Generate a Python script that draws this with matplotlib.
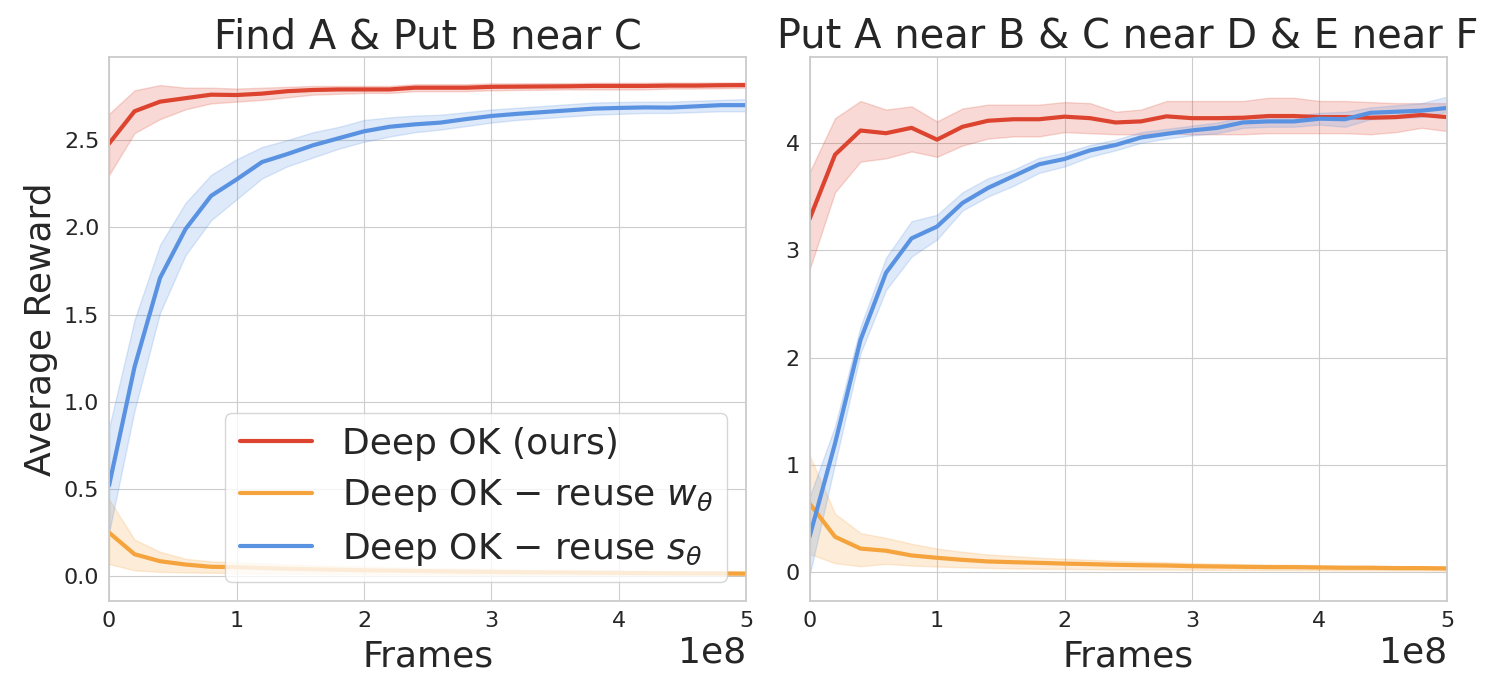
import numpy as np
import matplotlib
matplotlib.use("Agg")
import matplotlib.pyplot as plt
import seaborn as sns

sns.set_style("whitegrid")
plt.rcParams['font.family'] = ['DejaVu Sans']

# frames (26 checkpoints, every 2e7)
frames = np.arange(26) * 2e7

# --- Find A & Put B near C ---
left_ours = [2.48, 2.665, 2.72, 2.74, 2.76, 2.758, 2.766, 2.78, 2.787, 2.79, 2.79, 2.79, 2.80,
             2.80, 2.80, 2.805, 2.806, 2.807, 2.808, 2.81, 2.81, 2.81, 2.812, 2.812, 2.814, 2.815]
left_ours_lo = [2.30, 2.54, 2.62, 2.676, 2.71, 2.72, 2.73, 2.745, 2.76, 2.765, 2.77, 2.77, 2.78,
                2.78, 2.78, 2.785, 2.787, 2.788, 2.79, 2.79, 2.79, 2.79, 2.795, 2.795, 2.797, 2.80]
left_ours_hi = [2.65, 2.785, 2.815, 2.80, 2.80, 2.795, 2.80, 2.805, 2.81, 2.81, 2.81, 2.81, 2.82,
                2.82, 2.82, 2.825, 2.825, 2.826, 2.826, 2.828, 2.828, 2.828, 2.83, 2.83, 2.83, 2.83]

left_w = [0.25, 0.126, 0.086, 0.067, 0.054, 0.052, 0.047, 0.043, 0.040, 0.037, 0.034, 0.032, 0.030,
          0.028, 0.026, 0.025, 0.023, 0.022, 0.021, 0.020, 0.019, 0.018, 0.017, 0.016, 0.016, 0.015]
left_w_lo = [0.07, 0.034, 0.025, 0.022, 0.02, 0.018, 0.016, 0.015, 0.014, 0.013, 0.012, 0.011, 0.010,
             0.010, 0.009, 0.009, 0.008, 0.008, 0.008, 0.007, 0.007, 0.007, 0.006, 0.006, 0.006, 0.006]
left_w_hi = [0.44, 0.21, 0.14, 0.10, 0.085, 0.08, 0.074, 0.068, 0.063, 0.058, 0.054, 0.051, 0.048,
             0.045, 0.043, 0.041, 0.039, 0.037, 0.035, 0.034, 0.033, 0.032, 0.030, 0.029, 0.028, 0.027]

left_s = [0.52, 1.20, 1.71, 1.99, 2.18, 2.274, 2.374, 2.42, 2.47, 2.51, 2.55, 2.576, 2.59,
          2.60, 2.62, 2.638, 2.65, 2.66, 2.67, 2.68, 2.684, 2.687, 2.686, 2.693, 2.70, 2.70]
left_s_lo = [0.25, 0.95, 1.51, 1.84, 2.04, 2.16, 2.28, 2.35, 2.40, 2.45, 2.49, 2.52, 2.545,
             2.56, 2.58, 2.60, 2.615, 2.625, 2.635, 2.645, 2.65, 2.655, 2.655, 2.66, 2.665, 2.665]
left_s_hi = [0.85, 1.47, 1.90, 2.14, 2.30, 2.39, 2.46, 2.50, 2.545, 2.575, 2.615, 2.63, 2.64,
             2.645, 2.66, 2.675, 2.685, 2.695, 2.705, 2.715, 2.718, 2.72, 2.72, 2.725, 2.73, 2.735]

# --- Put A near B & C near D & E near F ---
right_ours = [3.29, 3.89, 4.115, 4.09, 4.14, 4.03, 4.15, 4.206, 4.22, 4.22, 4.244, 4.23, 4.19,
              4.20, 4.247, 4.23, 4.23, 4.234, 4.25, 4.25, 4.24, 4.24, 4.234, 4.24, 4.26, 4.24]
right_ours_lo = [2.82, 3.54, 3.825, 3.856, 3.92, 3.87, 3.975, 4.04, 4.06, 4.06, 4.10, 4.09, 4.08,
                 4.08, 4.09, 4.08, 4.08, 4.08, 4.09, 4.09, 4.09, 4.09, 4.08, 4.10, 4.14, 4.11]
right_ours_hi = [3.725, 4.23, 4.39, 4.31, 4.34, 4.20, 4.32, 4.356, 4.356, 4.356, 4.38, 4.37, 4.29,
                 4.31, 4.39, 4.39, 4.39, 4.39, 4.42, 4.42, 4.39, 4.39, 4.38, 4.37, 4.37, 4.37]

right_w = [0.64, 0.33, 0.22, 0.20, 0.156, 0.134, 0.115, 0.10, 0.093, 0.087, 0.08, 0.075, 0.069,
           0.065, 0.062, 0.056, 0.053, 0.05, 0.047, 0.047, 0.044, 0.041, 0.041, 0.038, 0.038, 0.035]
right_w_lo = [0.17, 0.084, 0.056, 0.078, 0.062, 0.053, 0.045, 0.04, 0.035, 0.032, 0.03, 0.028, 0.026,
              0.025, 0.024, 0.022, 0.021, 0.020, 0.019, 0.019, 0.018, 0.017, 0.017, 0.016, 0.016, 0.015]
right_w_hi = [1.09, 0.545, 0.364, 0.32, 0.265, 0.22, 0.19, 0.165, 0.15, 0.135, 0.125, 0.115, 0.105,
              0.098, 0.092, 0.085, 0.08, 0.075, 0.072, 0.07, 0.066, 0.063, 0.06, 0.058, 0.056, 0.054]

right_s = [0.33, 1.20, 2.165, 2.79, 3.11, 3.22, 3.44, 3.58, 3.69, 3.80, 3.85, 3.93, 3.98,
           4.05, 4.084, 4.116, 4.14, 4.19, 4.20, 4.20, 4.225, 4.22, 4.28, 4.29, 4.30, 4.325]
right_s_lo = [-0.03, 1.01, 2.04, 2.63, 2.94, 3.10, 3.37, 3.50, 3.60, 3.72, 3.78, 3.87, 3.93,
              4.00, 4.04, 4.07, 4.09, 4.14, 4.15, 4.15, 4.17, 4.15, 4.22, 4.23, 4.24, 4.29]
right_s_hi = [0.70, 1.36, 2.29, 2.93, 3.27, 3.33, 3.54, 3.67, 3.75, 3.86, 3.91, 3.98, 4.03,
              4.10, 4.13, 4.16, 4.19, 4.24, 4.25, 4.25, 4.28, 4.29, 4.33, 4.35, 4.37, 4.43]

RED, ORANGE, BLUE = '#dc4430', '#f5a33c', '#5a92e2'

fig, axes = plt.subplots(1, 2, figsize=(14.94, 6.95), dpi=100)
fig.subplots_adjust(left=0.073, right=0.9685, top=0.918, bottom=0.135, wspace=0.099)

panels = [
    (axes[0], "Find A & Put B near C",
     [(left_ours, left_ours_lo, left_ours_hi), (left_w, left_w_lo, left_w_hi), (left_s, left_s_lo, left_s_hi)],
     (-0.143, 2.976), [0.0, 0.5, 1.0, 1.5, 2.0, 2.5], "{:.1f}"),
    (axes[1], "Put A near B & C near D & E near F",
     [(right_ours, right_ours_lo, right_ours_hi), (right_w, right_w_lo, right_w_hi), (right_s, right_s_lo, right_s_hi)],
     (-0.27, 4.80), [0, 1, 2, 3, 4], "{:.0f}"),
]
labels = ["Deep OK (ours)", r"Deep OK $-$ reuse $w_\theta$", r"Deep OK $-$ reuse $s_\theta$"]
colors = [RED, ORANGE, BLUE]

for ax, title, series, ylim, yticks, fmt in panels:
    for (m, lo, hi), c, lab in zip(series, colors, labels):
        ax.fill_between(frames, lo, hi, color=c, alpha=0.2, lw=1)
        ax.plot(frames, m, color=c, lw=3, label=lab)
    ax.set_xlim(0, 5e8)
    ax.set_ylim(*ylim)
    ax.set_yticks(yticks)
    ax.set_yticklabels([fmt.format(v) for v in yticks])
    ax.set_title(title, fontsize=28.8)
    ax.set_xlabel("Frames", fontsize=26, labelpad=6)
    ax.tick_params(labelsize=16)
    ax.xaxis.get_offset_text().set_fontsize(26)
    for sp in ax.spines.values():
        sp.set_color('#cccccc')
        sp.set_linewidth(1.3)

axes[0].set_ylabel("Average Reward", fontsize=26)
axes[0].legend(loc='lower right', fontsize=26, borderaxespad=0.53, handlelength=2.0,
               handletextpad=0.83, labelspacing=0.45)

fig.savefig("out.png", dpi=100)
